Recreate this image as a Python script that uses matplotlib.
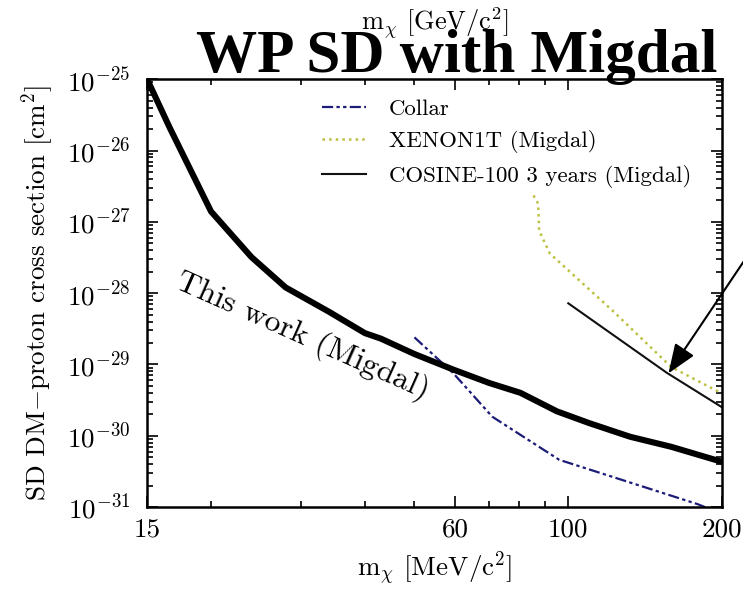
import numpy as np
import matplotlib
matplotlib.use("Agg")
import matplotlib.pyplot as plt
from matplotlib.ticker import FixedLocator, NullFormatter, LogLocator

plt.rcParams['font.family'] = ['cmr10', 'DejaVu Serif']
plt.rcParams['mathtext.fontset'] = 'cm'
plt.rcParams['axes.unicode_minus'] = False
plt.rcParams['axes.formatter.use_mathtext'] = True

# data (mass in MeV/c^2, cross section in cm^2)
this_work_m = [15, 16.6, 20, 24, 28, 34, 40, 43, 50, 59.5, 70, 80.6, 95, 110, 132, 159, 200]
this_work_xs = [1e-25, 2.1e-26, 1.4e-27, 3.2e-28, 1.2e-28, 5.5e-29, 2.75e-29, 2.3e-29,
                1.4e-29, 8.5e-30, 5.5e-30, 4e-30, 2.2e-30, 1.5e-30, 9.7e-31, 7e-31, 4.3e-31]

collar_m = [50, 59.5, 71, 96, 179, 200]
collar_xs = [2.4e-29, 7.6e-30, 1.85e-30, 4.6e-31, 1.1e-31, 8e-32]

xenon_m = [83, 87.3, 87.7, 92, 122, 159, 200]
xenon_xs = [3.4e-27, 1.8e-27, 7.5e-28, 3.6e-28, 5.7e-29, 9.2e-30, 3.9e-30]

cosine_m = [100, 156, 200]
cosine_xs = [7.2e-29, 7.6e-30, 2.5e-30]

xticks = [15, 60, 100, 200]
xminor = [20, 30, 40, 50, 70, 80, 90]

fig = plt.figure(figsize=(7.43, 5.91), dpi=100)
ax = fig.add_axes([0.198, 0.142, 0.774, 0.724])

ax.plot(collar_m, collar_xs, color='#1c1c78', lw=1.6,
        dashes=(5, 1.5, 1.5, 1.5, 1.5, 1.5), label='Collar')
ax.plot(xenon_m, xenon_xs, color='#bcc040', lw=1.8, ls=':', label='XENON1T (Migdal)')
ax.plot(cosine_m, cosine_xs, color='#111111', lw=1.5, label='COSINE-100 3 years (Migdal)')
ax.plot(this_work_m, this_work_xs, color='black', lw=4.4, solid_capstyle='butt')

ax.set_xscale('log')
ax.set_yscale('log')
ax.set_xlim(15, 200)
ax.set_ylim(1e-31, 1e-25)

ax.xaxis.set_major_locator(FixedLocator(xticks))
ax.set_xticklabels([str(t) for t in xticks])
ax.xaxis.set_minor_locator(FixedLocator(xminor))
ax.xaxis.set_minor_formatter(NullFormatter())
ax.yaxis.set_major_locator(LogLocator(base=10, numticks=10))
ax.yaxis.set_minor_locator(LogLocator(base=10, subs=np.arange(2, 10), numticks=20))
ax.yaxis.set_minor_formatter(NullFormatter())

ax.tick_params(which='both', direction='in', top=True, right=True, labelsize=19.5, width=1.2)
ax.tick_params(which='major', length=8)
ax.tick_params(axis='y', which='major', pad=12)
ax.tick_params(axis='x', which='major', pad=8)
ax.tick_params(which='minor', length=4)
for s in ax.spines.values():
    s.set_linewidth(1.8)

ax.set_xlabel(r'm$_\chi$ [MeV/c$^2$]', fontsize=19.5, labelpad=5)
ax.set_ylabel(r'SD DM$-$proton cross section [cm$^2$]', fontsize=19.5, labelpad=8)
ax.text(0.5, 1.13, r'm$_\chi$ [GeV/c$^2$]', transform=ax.transAxes,
        ha='center', va='center', fontsize=19)

leg = ax.legend(loc='upper left', bbox_to_anchor=(0.297, 0.965), fontsize=16.5,
                frameon=True, edgecolor='none', facecolor='white', framealpha=1,
                borderpad=0.2, borderaxespad=0, handlelength=1.9,
                handletextpad=1.0, labelspacing=0.5)
leg.get_frame().set_linewidth(0)

ax.text(0.27, 0.40, 'This work (Migdal)', transform=ax.transAxes, fontsize=23,
        rotation=-24, ha='center', va='center', rotation_mode='anchor')

ax.annotate('', xy=(157, 7.5e-30), xytext=(1.045, 0.64), textcoords='figure fraction',
            arrowprops=dict(arrowstyle='-|>,head_length=0.9,head_width=0.35',
                            color='black', lw=1.5, mutation_scale=20,
                            shrinkA=0, shrinkB=0),
            annotation_clip=False)

fig.text(0.614, 1 - 72 / 591, 'WP SD with Migdal', ha='center', va='baseline',
         fontsize=44, fontweight='bold', family='Liberation Serif')

fig.savefig('out.png', dpi=100)
